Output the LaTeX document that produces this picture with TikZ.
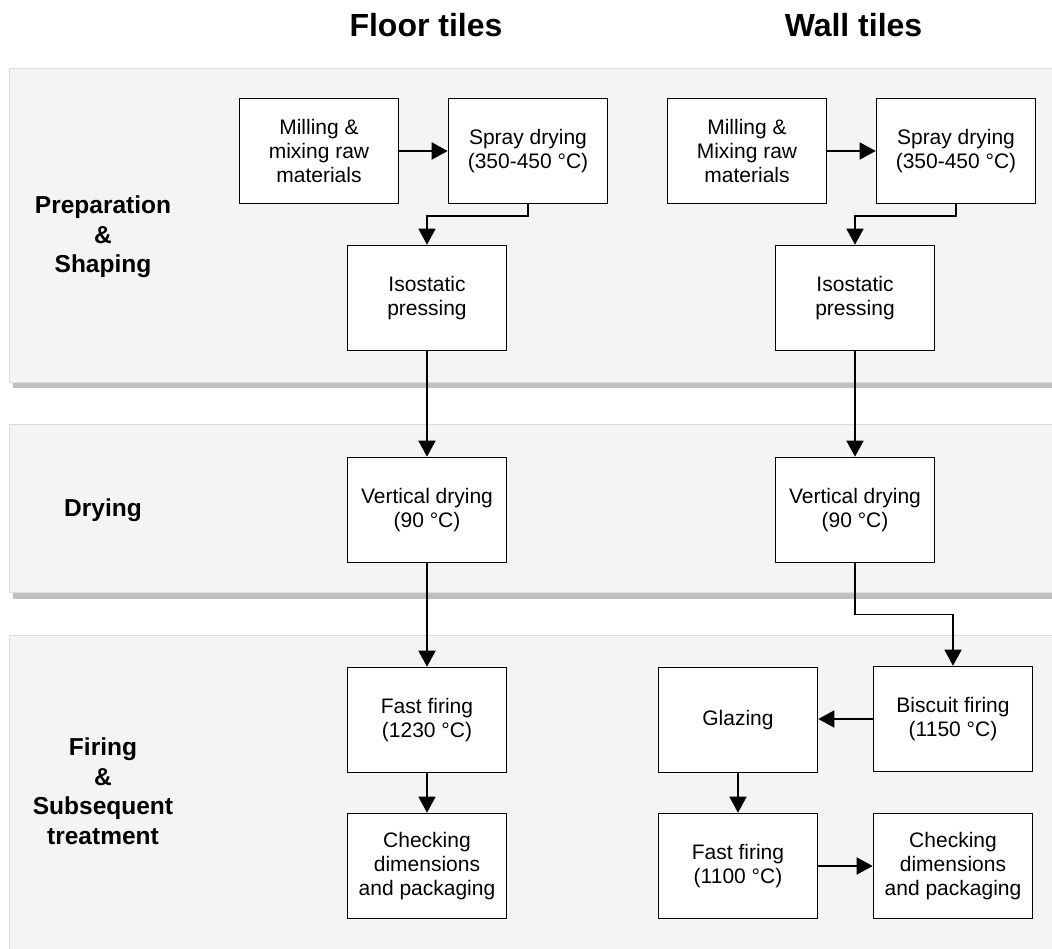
\documentclass[tikz,border=0pt]{standalone}
\usepackage{fontspec}
\setmainfont{Liberation Sans}
\usetikzlibrary{arrows.meta}
\definecolor{bandfill}{HTML}{F4F4F4}
\definecolor{bandline}{HTML}{DCDCDC}
\definecolor{bandshadow}{HTML}{C0C0C0}
\begin{document}
\begin{tikzpicture}[x=1pt,y=-1pt,
  band/.style={fill=bandfill,draw=bandline,line width=0.8pt},
  bandshade/.style={fill=bandshadow},
  procbox/.style={draw=black,fill=white,line width=1.6pt,minimum width=159pt,
    minimum height=105pt,inner sep=2pt,align=center,
    font=\fontsize{21}{24}\selectfont},
  header/.style={anchor=base,font=\fontsize{32}{38}\selectfont\bfseries},
  phase/.style={align=center,inner sep=0pt,font=\fontsize{24.5}{29.5}\selectfont\bfseries},
  flow/.style={line width=1.6pt,-{Triangle[length=16pt,width=17pt]}}]
\useasboundingbox (0,0) rectangle (1052,949);
\clip (0,0) rectangle (1052,949);

% phase bands with their drop shadows
\fill[bandshade] (13,74) rectangle (1070,388);
\filldraw[band] (9,68) rectangle (1070,382);
\fill[bandshade] (13,430) rectangle (1070,599);
\filldraw[band] (9,424) rectangle (1070,592);
\filldraw[band] (9,635) rectangle (1070,975);

% column headers
\node[header] (hfloor) at (426,37) {Floor tiles};
\node[header] (hwall) at (853.5,37) {Wall tiles};

% phase labels
\node[phase] (lprep) at (103,237) {Preparation\\\&\\Shaping};
\node[phase] (ldry) at (103,510) {Drying};
\node[phase] (lfire) at (103,791) {Firing\\\&\\Subsequent\\treatment};

% floor tiles process
\node[procbox] (fmill) at (319,151) {Milling \&\\mixing raw\\materials};
\node[procbox] (fspray) at (528,151) {Spray drying\\(350-450 °C)};
\node[procbox] (fiso) at (427,298) {Isostatic\\pressing};
\node[procbox] (fvdry) at (427,510) {Vertical drying\\(90 °C)};
\node[procbox] (ffire) at (427,720) {Fast firing\\(1230 °C)};
\node[procbox] (fcheck) at (427,866) {Checking\\dimensions\\and packaging};

% wall tiles process
\node[procbox] (wmill) at (747,151) {Milling \&\\Mixing raw\\materials};
\node[procbox] (wspray) at (956,151) {Spray drying\\(350-450 °C)};
\node[procbox] (wiso) at (855,298) {Isostatic\\pressing};
\node[procbox] (wvdry) at (855,510) {Vertical drying\\(90 °C)};
\node[procbox] (wbisc) at (953,719) {Biscuit firing\\(1150 °C)};
\node[procbox] (wglaze) at (738,720) {Glazing};
\node[procbox] (wfire) at (738,866) {Fast firing\\(1100 °C)};
\node[procbox] (wcheck) at (953,866) {Checking\\dimensions\\and packaging};

% floor connectors
\draw[flow] (fmill) -- (fspray);
\draw[flow] (fspray.south) -- ++(0,12) -| (fiso.north);
\draw[flow] (fiso) -- (fvdry);
\draw[flow] (fvdry) -- (ffire);
\draw[flow] (ffire) -- (fcheck);

% wall connectors
\draw[flow] (wmill) -- (wspray);
\draw[flow] (wspray.south) -- ++(0,12) -| (wiso.north);
\draw[flow] (wiso) -- (wvdry);
\draw[flow] (wvdry.south) -- ++(0,51) -| (wbisc.north);
\draw[flow] (wbisc.west) -- (wbisc.west -| wglaze.east);
\draw[flow] (wglaze) -- (wfire);
\draw[flow] (wfire) -- (wcheck);
\end{tikzpicture}
\end{document}
